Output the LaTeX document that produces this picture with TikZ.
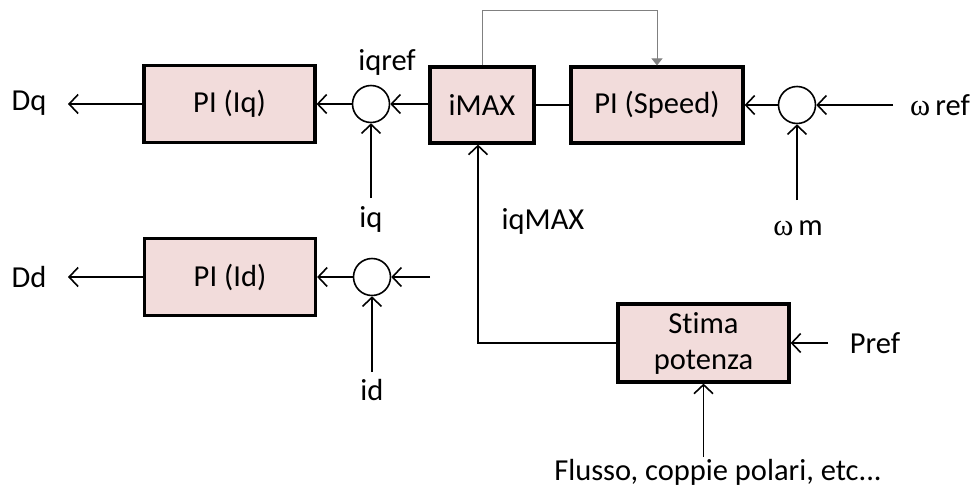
\documentclass[tikz,border=0pt]{standalone}
\usepackage{fontspec}
\setmainfont{Carlito}[Ligatures={NoCommon}]
\newfontfamily\greekfont{Liberation Serif}
\usetikzlibrary{arrows.meta,calc,positioning}
\definecolor{blockpink}{HTML}{F2DCDB}
\tikzset{
  block/.style={
    draw,
    line width=3.2pt,
    fill=blockpink,
    minimum width=171pt,
    minimum height=77pt,
    inner sep=0pt,
    align=center
  },
  junction/.style={
    shape = circle,
    draw,
    line width=1.6pt,
    minimum size=37pt,
    inner sep=0pt
  },
  sig/.style={
    line width=1.6pt,
    -{Straight Barb[length=9pt,width=19pt,line width=1.6pt]}
  },
  fb/.style={
    draw = gray,
    line width=1pt,
    -{Triangle[length=7pt,width=11pt]}
  },
  lbl/.style={
    inner sep=0pt
  },
  every picture/.style = {
    font=\fontsize{30.5}{36}\selectfont
  }
}

\begin{document}
\begin{tikzpicture}[x=1pt,y=-1pt]
  \useasboundingbox (0,0) rectangle (973,488);
  % blocks
  \node[block] (piq) at (229.5,104) {PI (Iq)};
  \node[block] (pid) at (230,277) {PI (Id)};
  \node[block,minimum width=104pt,minimum height=76pt] (imax) at (482,105) {iMAX};
  \node[block,minimum width=172pt,minimum height=76pt] (pispd) at (657,105) {PI (Speed)};
  \node[block,minimum height=78pt] (stima) at (703.5,343) {Stima\\potenza};
  % summing points
  \node[junction] (sq) at (371,104) {};
  \node[junction] (sd) at (372,277) {};
  \node[junction] (sw) at (797,105) {};
  % texts
  \node[lbl] (dq) at (29,103) {Dq};
  \node[lbl] (dd) at (29,277) {Dd};
  \node[lbl] (iqref) at (387,62) {iqref};
  \node[lbl] (iq) at (371,219) {iq};
  \node[lbl] (id) at (372,390) {id};
  \node[lbl] (iqmax) at (543,221) {iqMAX};
  \node[lbl] (wref) at (940,105) {{\greekfont ω}\,ref};
  \node[lbl] (wm) at (798,228) {{\greekfont ω}\,m};
  \node[lbl] (pref) at (875,343) {Pref};
  \node[lbl] (flusso) at (718,472) {Flusso, coppie polari, etc...};
  % free ends
  \coordinate (dqout) at (68,104);
  \coordinate (ddout) at (68,277);
  \coordinate (iqin) at (371,198);
  \coordinate (idin) at (372,372);
  \coordinate (sdin) at (430,277);
  \coordinate (wrefin) at (893,105);
  \coordinate (wmin) at (797,200);
  \coordinate (prefin) at (828,343);
  \coordinate (flin) at (703.5,457);
  % q axis
  \draw[sig] (piq.west) -- (dqout);
  \draw[sig] (sq.west) -- (piq.east);
  \draw[sig] (imax.west |- sq.east) -- (sq.east);
  \draw[sig] (iqin) -- (sq.south);
  % d axis
  \draw[sig] (pid.west) -- (ddout);
  \draw[sig] (sd.west) -- (pid.east);
  \draw[sig] (sdin) -- (sd.east);
  \draw[sig] (idin) -- (sd.south);
  % speed loop
  \draw[line width=1.6pt] (imax.east) -- (pispd.west);
  \draw[sig] (sw.west) -- (pispd.east);
  \draw[sig] (wrefin) -- (sw.east);
  \draw[sig] (wmin) -- (sw.south);
  \draw[fb] (imax.north) -- ++(0,-55) -| (pispd.north);
  % power estimate
  \draw[sig] (stima.west) -| ([xshift=-4pt]imax.south);
  \draw[sig] (prefin) -- (stima.east);
  \draw[sig] (flin) -- (stima.south);
\end{tikzpicture}
\end{document}
